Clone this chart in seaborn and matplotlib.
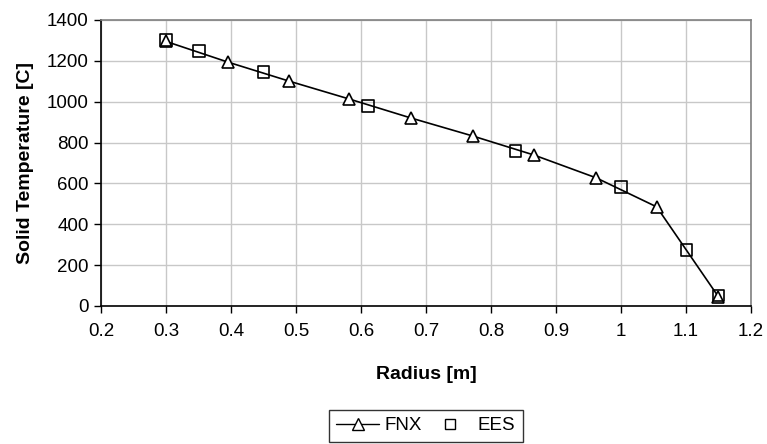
import matplotlib
matplotlib.use("Agg")
import matplotlib.pyplot as plt
import seaborn as sns
import pandas as pd
from matplotlib.lines import Line2D

# data
fnx_radius = [0.300, 0.395, 0.489, 0.582, 0.677, 0.772, 0.866, 0.962, 1.055, 1.150]
fnx_temp = [1295, 1194, 1101, 1013, 920, 832, 739, 627, 485, 45]

ees_radius = [0.300, 0.351, 0.450, 0.611, 0.838, 1.000, 1.101, 1.150]
ees_temp = [1302, 1248, 1145, 979, 759, 582, 274, 52]

fnx = pd.DataFrame({"Radius": fnx_radius, "Temp": fnx_temp})
ees = pd.DataFrame({"Radius": ees_radius, "Temp": ees_temp})

sns.set_style("white")
plt.rcParams["font.family"] = ["Liberation Sans", "DejaVu Sans"]
plt.rcParams["text.color"] = "black"
plt.rcParams["axes.labelcolor"] = "black"
plt.rcParams["xtick.color"] = "black"
plt.rcParams["ytick.color"] = "black"

fig = plt.figure(figsize=(7.67, 4.44), dpi=100)
ax = fig.add_axes([0.1317, 0.311, 0.979 - 0.1317, 0.955 - 0.311])

sns.lineplot(data=fnx, x="Radius", y="Temp", ax=ax, color="black", lw=1.2,
             marker="^", markersize=9, markerfacecolor="white",
             markeredgecolor="black", markeredgewidth=1.2, zorder=3)
sns.scatterplot(data=ees, x="Radius", y="Temp", ax=ax, marker="s", s=68,
                facecolor="none", edgecolor="black", linewidth=1.2, zorder=4)

ax.set_xlim(0.2, 1.2)
ax.set_ylim(0, 1400)
ax.set_xticks([0.2, 0.3, 0.4, 0.5, 0.6, 0.7, 0.8, 0.9, 1.0, 1.1, 1.2])
ax.set_xticklabels(["0.2", "0.3", "0.4", "0.5", "0.6", "0.7", "0.8", "0.9", "1", "1.1", "1.2"])
ax.set_yticks(range(0, 1401, 200))
ax.grid(True, color="#c8c8c8", lw=1)
ax.set_axisbelow(True)

for side in ["top", "right"]:
    ax.spines[side].set_color("#808080")
    ax.spines[side].set_linewidth(1.2)
for side in ["left", "bottom"]:
    ax.spines[side].set_color("black")
    ax.spines[side].set_linewidth(1.2)

ax.tick_params(axis="both", direction="out", length=5, width=1, color="black",
               labelsize=13.5, bottom=True, left=True, pad=4)
ax.tick_params(axis="x", pad=7)

ax.set_xlabel("Radius [m]", fontsize=14, fontweight="bold", labelpad=19)
ax.set_ylabel("Solid Temperature [C]", fontsize=14, fontweight="bold", labelpad=9)

handles = [
    Line2D([], [], color="black", lw=1, marker="^", markersize=8.5,
           markerfacecolor="white", markeredgecolor="black"),
    Line2D([], [], color="none", marker="s", markersize=6.5,
           markerfacecolor="white", markeredgecolor="black"),
]
leg = fig.legend(handles, ["FNX", "EES"], loc="upper center",
                 bbox_to_anchor=(0.555, 0.077), ncol=2, fontsize=13.5,
                 frameon=True, fancybox=False, handlelength=2.3,
                 handletextpad=0.3, columnspacing=0.35, borderpad=0.4,
                 borderaxespad=0)
leg.get_frame().set_edgecolor("black")
leg.get_frame().set_linewidth(1)

fig.savefig("out.png", dpi=100)
